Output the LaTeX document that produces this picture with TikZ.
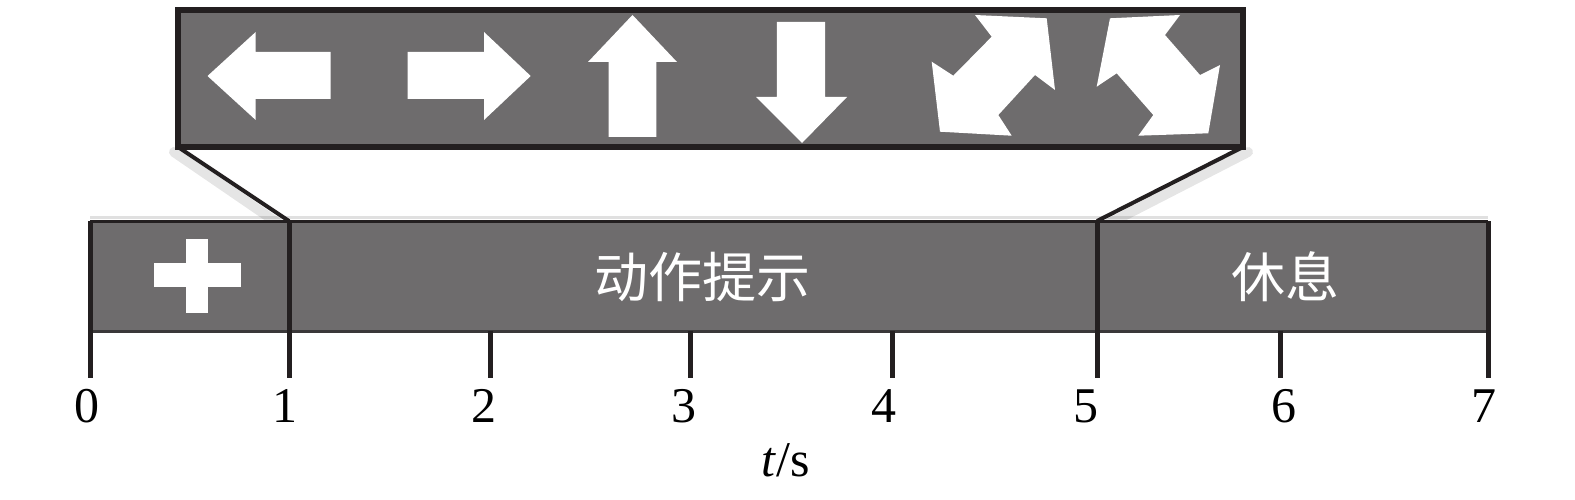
\documentclass[tikz,border=0pt]{standalone}
\usepackage{fontspec}
\setmainfont{Liberation Serif}
\newfontfamily\cjk{Noto Sans CJK SC}
\definecolor{barfill}{RGB}{110,108,109}
\definecolor{ink}{RGB}{35,31,32}
\definecolor{edge}{RGB}{58,56,57}
\tikzset{
  glyph/.style={fill=white, draw=none},
  tickline/.style={draw=ink, line width=5pt},
  frameline/.style={draw=ink, line width=5.5pt},
  linkline/.style={draw=ink, line width=4pt},
  shade/.style={draw=black, line width=10pt, opacity=0.10, line cap=round},
  numlab/.style={font=\fontsize{50}{54}\selectfont, inner sep=0pt},
  cjklab/.style={font=\cjk\fontsize{54}{60}\selectfont, text=white, inner sep=0pt},
}
\begin{document}
\begin{tikzpicture}[x=1pt,y=-1pt]
\useasboundingbox (0,0) rectangle (1575,500);
% ---- coordinates of the time axis
\coordinate (t0) at (90,221);
\coordinate (t1) at (289,221);
\coordinate (t5) at (1097,221);
\coordinate (t7) at (1488,221);
% ---- shadows of the zoom connectors
\draw[shade] (174,152) -- (282,226);
\draw[shade] (1248,152) -- (1104,226);
\draw[black, opacity=0.12, line width=3pt] (90,217) -- (1488,217);
% ---- bar
\fill[barfill] (90,221) rectangle (1488,332);
\draw[edge, line width=3pt] (90,331) -- (1488,331);
\draw[ink, line width=3pt] (90,221) -- (1488,221);
% fixation cross
\node (fix) at (197,276) {};
\fill[glyph] (154,263) rectangle (241,287);
\fill[glyph] (186,239) rectangle (208,313);
% texts in the bar
\node[cjklab] (cue) at (702,277) {动作提示};
\node[cjklab] (rest) at (1285,277) {休息};
% ---- ticks
\foreach \x in {90,289,1097,1488} \draw[tickline] (\x,221) -- (\x,378);
\foreach \x in {490,690,892,1280} \draw[tickline] (\x,331) -- (\x,378);
% tick labels
\foreach \x/\n in {87/0,285/1,484/2,684/3,884/4,1086/5,1284/6,1484/7}
  \node[numlab] (lab\n) at (\x,406) {\n};
\node[numlab] (axis) at (786,460) {\textit{t}/s};
% ---- zoom panel
\fill[barfill] (178,10) rectangle (1243,147);
\draw[frameline] (178,10) rectangle (1243,147);
\coordinate (pSW) at (178,147);
\coordinate (pSE) at (1243,147);
\node (panel) at (710,78) {};
% arrows
\fill[glyph] (207.5,76) -- (255.7,32) -- (255.7,52) -- (330.7,52) -- (330.7,99) -- (255.7,99) -- (255.7,120) -- cycle;
\fill[glyph] (407.5,52) -- (484,52) -- (484,32) -- (530.7,76) -- (484,120) -- (484,99) -- (407.5,99) -- cycle;
\fill[glyph] (632.5,15) -- (677,62) -- (656.4,62) -- (656.4,137) -- (608.6,137) -- (608.6,62) -- (588,62) -- cycle;
\fill[glyph] (776.8,22) -- (825,22) -- (825,97) -- (847,97) -- (802,143) -- (756,97) -- (776.8,97) -- cycle;
\fill[glyph] (975,15) -- (1046.7,18.3) -- (1055,90) -- (1035,75) -- (998.3,115) -- (1011.7,135.7) -- (940,131.7) -- (931.7,61.7) -- (953.3,75.7) -- (991.7,36.7) -- cycle;
\fill[glyph] (1110,18.3) -- (1180,15) -- (1165,35) -- (1200,75) -- (1220,65) -- (1208.3,133.3) -- (1138.3,135.7) -- (1153.3,115) -- (1116.7,73.3) -- (1096.7,86.7) -- cycle;
% ---- zoom connectors
\draw[linkline] (pSW) -- (t1);
\draw[linkline] (pSE) -- (t5);
\end{tikzpicture}
\end{document}
